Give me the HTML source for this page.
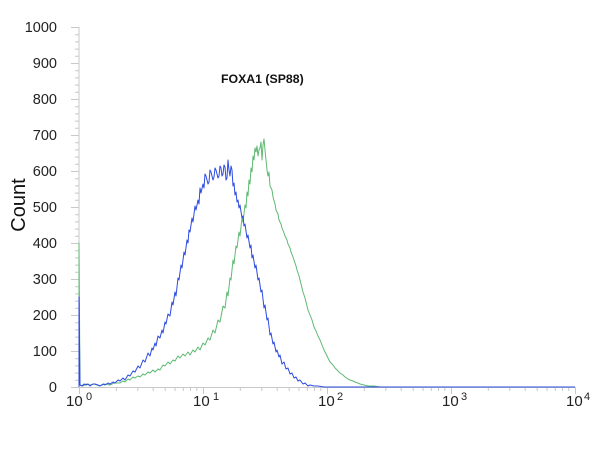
<!DOCTYPE html>
<html><head><meta charset="utf-8"><style>
html,body{margin:0;padding:0;background:#fff;}
svg{display:block;}
</style></head><body>
<svg width="600" height="450" viewBox="0 0 600 450" xmlns="http://www.w3.org/2000/svg" font-family="Liberation Sans, sans-serif">
<rect width="600" height="450" fill="#fff"/>
<g stroke="#c8c8c8" stroke-width="1" fill="none">
<line x1="79" y1="27" x2="79" y2="387.5"/>
<line x1="79" y1="387.5" x2="576" y2="387.5"/>
<path d="M71 27.5H79M71 63.5H79M71 99.5H79M71 135.5H79M71 171.5H79M71 207.5H79M71 243.5H79M71 279.5H79M71 315.5H79M71 351.5H79M71 387.5H79"/>
<path d="M75 34.7H79M75 41.9H79M75 49.1H79M75 56.3H79M75 70.7H79M75 77.9H79M75 85.1H79M75 92.3H79M75 106.7H79M75 113.9H79M75 121.1H79M75 128.3H79M75 142.7H79M75 149.9H79M75 157.1H79M75 164.3H79M75 178.7H79M75 185.9H79M75 193.1H79M75 200.3H79M75 214.7H79M75 221.9H79M75 229.1H79M75 236.3H79M75 250.7H79M75 257.9H79M75 265.1H79M75 272.3H79M75 286.7H79M75 293.9H79M75 301.1H79M75 308.3H79M75 322.7H79M75 329.9H79M75 337.1H79M75 344.3H79M75 358.7H79M75 365.9H79M75 373.1H79M75 380.3H79"/>
<path d="M79.5 387V394M203.5 387V394M327.5 387V394M451.5 387V394M575.5 387V394"/>
<path d="M116.3 387V391M137.8 387V391M153.2 387V391M165.2 387V391M175 387V391M183.3 387V391M190.5 387V391M196.8 387V391
M240.3 387V391M261.8 387V391M277.2 387V391M289.2 387V391M299 387V391M307.3 387V391M314.5 387V391M320.8 387V391
M364.3 387V391M385.8 387V391M401.2 387V391M413.2 387V391M423 387V391M431.3 387V391M438.5 387V391M444.8 387V391
M488.3 387V391M509.8 387V391M525.2 387V391M537.2 387V391M547 387V391M555.3 387V391M562.5 387V391M568.8 387V391"/>
</g>
<g font-size="14.5" fill="#222" text-anchor="end">
<text x="57" y="32">1000</text>
<text x="57" y="68">900</text>
<text x="57" y="104">800</text>
<text x="57" y="140">700</text>
<text x="57" y="176">600</text>
<text x="57" y="212">500</text>
<text x="57" y="248">400</text>
<text x="57" y="284">300</text>
<text x="57" y="320">200</text>
<text x="57" y="356">100</text>
<text x="57" y="392">0</text>
</g>
<g font-size="15" fill="#222">
<text x="66" y="406">10</text><text x="86" y="400" font-size="11">0</text>
<text x="193" y="406">10</text><text x="213" y="400" font-size="11">1</text>
<text x="318" y="406">10</text><text x="337" y="400" font-size="11">2</text>
<text x="442" y="406">10</text><text x="461" y="400" font-size="11">3</text>
<text x="566" y="406">10</text><text x="584" y="400" font-size="11">4</text>
</g>
<text transform="translate(25,205) rotate(-90)" font-size="20" fill="#111" text-anchor="middle">Count</text>
<text x="221" y="83" font-size="12.3" font-weight="bold" fill="#111">FOXA1 (SP88)</text>
<polyline fill="none" stroke="rgb(95,185,115)" stroke-width="1" stroke-linejoin="round" points="79,387 79,243 80,385 83,386 86,384 90,385 94,384 100,386 104,384 110,385 114,383 120,383 123,381 125,382 128,379 130,380 133,377 135,378 138,376 140,377 143,374 145,375 148,372 150,373 153,370 155,372 158,369 160,370 163,365 165,366 168,362 170,364 173,360 175,361 178,356 180,358 183,354 185,356 188,352 190,355 193,350 195,352 198,347 200,350 203,343 205,345 208,338 210,340 213,330 215,333 218,320 220,322 223,306 225,308 227,292 228,296 230,278 231,280 233,260 234,264 236,246 237,248 239,232 240,236 242,218 243,222 245,205 246,208 247,192 248,196 249,180 250,184 251,168 252,172 253,156 254,160 255,148 256,152 257,146 258,156 259,150 260,148 261,142 262,160 263,145 264,139 265,150 266,160 267,170 268,176 269,172 270,186 272,190 273,197 275,204 276,210 278,214 279,220 281,224 282,228 284,233 285,236 287,240 288,244 290,248 291,252 293,257 294,260 296,266 297,270 299,276 300,280 302,288 303,292 305,298 306,302 308,310 310,315 312,320 314,327 316,331 318,336 320,340 322,345 324,350 326,354 328,358 330,362 333,365 335,368 338,371 340,373 343,375 345,377 348,379 350,380 353,381 355,382 358,383 360,384 364,385 368,386 374,386 380,387 575,387"/>
<polyline fill="none" stroke="rgb(45,75,225)" stroke-width="1" stroke-linejoin="round" points="79,387 79,297 80,385 82,386 84,384 86,385 88,384 90,386 93,384 95,384 98,385 100,386 103,384 105,385 108,383 110,384 113,382 115,383 118,380 120,381 123,378 125,380 128,375 130,376 133,371 135,372 138,366 140,368 143,360 145,362 148,353 150,356 152,348 153,350 155,343 156,346 158,336 160,338 162,330 163,333 165,322 166,324 168,314 170,316 172,302 173,305 175,292 176,296 178,278 179,280 181,265 182,268 184,252 185,255 187,240 188,243 189,230 190,232 192,218 193,222 195,206 196,210 198,200 199,204 200,188 201,193 203,184 204,188 205,174 206,176 208,184 209,182 210,170 211,172 213,180 214,177 215,168 216,170 218,178 219,176 220,166 221,168 222,176 223,174 224,165 225,167 226,180 227,178 228,160 229,170 230,176 231,166 232,170 233,186 234,183 235,195 236,192 237,202 238,200 239,208 240,205 242,218 243,216 244,226 245,224 247,238 248,235 250,248 251,245 252,258 253,255 255,268 256,265 258,280 259,278 261,292 262,290 264,308 265,305 267,320 268,318 270,335 271,333 273,344 274,342 276,352 277,350 279,357 280,355 282,364 284,362 286,369 288,368 290,374 292,373 294,378 296,377 298,381 300,380 303,384 305,383 308,386 310,385 314,386 318,386 324,387 330,387 575,387"/>
</svg>
</body></html>
